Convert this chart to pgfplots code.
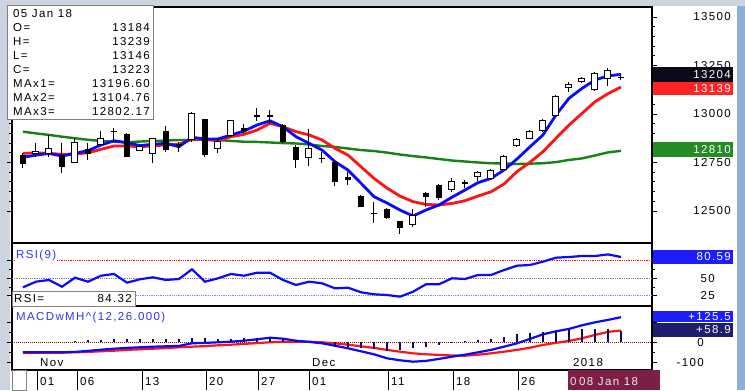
\documentclass[border=0pt]{standalone}
\usepackage{pgfplots}
\pgfplotsset{compat=1.18}
\usepackage{pgfplotstable}
\usepackage{fontspec}
\setmainfont{Liberation Sans}
\newfontfamily\chartfamily{Liberation Sans}[LetterSpace=12]
\newcommand\cf{\chartfamily\fontsize{11.5}{13}\selectfont}

\definecolor{maBlue}{RGB}{10,10,255}
\definecolor{maRed}{RGB}{255,20,20}
\definecolor{maGreen}{RGB}{20,130,20}
\definecolor{histNavy}{RGB}{10,10,100}
\definecolor{lblBlue}{RGB}{50,50,255}
\definecolor{boxBlue}{RGB}{30,30,250}
\definecolor{boxNavy}{RGB}{30,30,110}
\definecolor{boxGreen}{RGB}{35,140,35}
\definecolor{boxRed}{RGB}{255,35,35}
\definecolor{boxBlack}{RGB}{10,10,25}
\definecolor{zeroRed}{RGB}{140,0,0}
\definecolor{frameA}{RGB}{203,212,224}
\definecolor{frameB}{RGB}{140,175,220}
\definecolor{dateBox}{RGB}{125,30,70}

% up candles (close > open)
\pgfplotstableread{
i O H L C
1 12797 12852 12780 12809
2 12797 12892 12780 12820
4 12751 12875 12746 12854
6 12844 12914 12840 12875
9 12814 12840 12809 12831
10 12797 12878 12746 12875
13 12866 13012 12857 13004
15 12820 12878 12797 12857
16 12888 12969 12883 12965
22 12775 12923 12733 12820
30 12428 12509 12419 12479
33 12613 12668 12599 12654
35 12677 12706 12655 12698
36 12668 12715 12660 12708
37 12715 12789 12711 12783
38 12837 12878 12832 12871
39 12875 12918 12871 12909
40 12914 12973 12909 12964
41 12991 13098 12986 13089
42 13137 13163 13115 13154
43 13167 13191 13158 13184
44 13124 13218 13119 13210
45 13184 13239 13146 13223
}\upc

% down candles (close < open)
\pgfplotstableread{
i O H L C
0 12789 12797 12723 12742
3 12788 12849 12697 12728
5 12820 12849 12763 12794
7 12912 12926 12857 12906
8 12895 12902 12778 12780
11 12912 12940 12802 12814
12 12843 12857 12806 12837
14 12973 12975 12780 12789
17 12926 12947 12900 12912
18 12995 13032 12964 12983
19 12993 13020 12950 12987
20 12943 12946 12851 12857
21 12831 12840 12723 12763
23 12774 12806 12746 12773
24 12754 12763 12630 12648
25 12677 12702 12634 12660
26 12577 12580 12519 12522
27 12488 12545 12440 12483
28 12510 12515 12457 12462
29 12448 12450 12381 12411
31 12594 12596 12522 12571
32 12634 12639 12557 12565
34 12651 12660 12617 12639
46 13192 13198 13176 13186
}\downc

% indicators
\pgfplotstableread{
i ma1 ma2 ma3 rsi macd sig hist
0 12777 12797 12909 37.1 -50 -52 0
1 12788 12800 12900 45.1 -50 -53 0
2 12797 12797 12892 47.6 -50 -53 0
3 12783 12792 12883 37.9 -50 -52 0
4 12797 12794 12875 50.9 -48 -50 7
5 12811 12800 12867 45.1 -43 -48 10
6 12840 12818 12861 53.7 -37 -45 12
7 12862 12835 12857 56.2 -32 -42 17
8 12852 12835 12854 43.7 -28 -38 17
9 12837 12831 12858 48.6 -25 -35 17
10 12844 12836 12861 51.4 -22 -32 17
11 12849 12840 12863 47.6 -20 -29 17
12 12831 12844 12866 49.0 -18 -25 17
13 12880 12870 12866 62.9 -5 -22 23
14 12871 12870 12866 45.1 -3 -19 20
15 12871 12861 12866 50.0 0 -15 17
16 12892 12883 12861 56.2 3 -12 17
17 12912 12895 12857 53.7 8 -8 20
18 12943 12917 12856 58.0 15 -4 20
19 12965 12952 12853 58.0 23 0 23
20 12934 12934 12850 47.6 18 3 20
21 12883 12909 12848 40.4 8 3 10
22 12849 12892 12843 45.1 2 3 0
23 12814 12866 12835 42.8 -5 0 -5
24 12754 12823 12830 35.6 -17 -5 -22
25 12711 12788 12822 36.5 -30 -12 -22
26 12643 12728 12814 29.9 -45 -20 -27
27 12574 12668 12809 27.0 -60 -28 -35
28 12541 12618 12801 26.0 -80 -38 -43
29 12505 12577 12791 23.6 -90 -47 -38
30 12474 12548 12783 30.7 -97 -55 -30
31 12505 12534 12776 41.4 -93 -60 -22
32 12531 12531 12768 41.4 -83 -63 -13
33 12571 12539 12760 50.0 -72 -66 -5
34 12608 12553 12755 49.0 -62 -67 7
35 12646 12577 12750 54.7 -50 -62 12
36 12668 12599 12746 54.7 -38 -55 17
37 12711 12639 12745 61.9 -22 -47 28
38 12768 12703 12742 68.1 -5 -38 40
39 12831 12751 12744 69.1 17 -27 45
40 12892 12806 12746 73.9 40 -13 50
41 12995 12875 12752 79.6 55 -3 58
42 13081 12943 12763 80.6 67 7 65
43 13132 13003 12771 82.0 85 20 65
44 13175 13063 12786 82.0 100 37 65
45 13196.6 13104.76 12802.17 84.32 112 52 65
46 13204 13139 12810 80.59 125.5 58.9 57
}\ind

\pgfplotsset{
  panel/.style={
    scale only axis, anchor=south west, width=640pt,
    xmin=-0.846, xmax=48.385, xtick=\empty,
    scaled y ticks=false,
    axis line style={black, line width=1.2pt},
    tick align=outside, yticklabel pos=right,
    major tick length=5pt, minor tick length=3pt,
    tick style={black, line width=0.8pt},
    yticklabel style={font=\cf, anchor=east, inner sep=0pt},
  },
}

\begin{document}
\begin{tikzpicture}
\begin{scope}[x=1pt,y=1pt]
\fill[white] (0,0) rectangle (745,390);
\fill[frameA] (0,0) rectangle (10,390);
\fill[frameA] (0,384) rectangle (745,390);
\fill[frameB] (737,0) rectangle (745,384);
\end{scope}

% ---------- price panel ----------
\begin{axis}[panel, at={(12pt,147pt)}, height=236pt, ymin=12335, ymax=13551.5,
  ytick={12500,12750,13000,13250,13500},
  yticklabels={12500,12750,13000,13250,13500},
  minor y tick num=4, yticklabel style={xshift=74pt}]
\addplot[maGreen, line width=2.4pt] table[x=i,y=ma3]{\ind};
\addplot[maRed, line width=2.8pt] table[x=i,y=ma2]{\ind};
\addplot[maBlue, line width=2.8pt] table[x=i,y=ma1]{\ind};
\addplot[black, line width=1pt, quiver={u=0, v=\thisrow{H}-\thisrow{L}}] table[x=i,y=L]{\downc};
\addplot[black, line width=1pt, quiver={u=0, v=\thisrow{H}-\thisrow{L}}] table[x=i,y=L]{\upc};
\addplot[black, line width=6.5pt, quiver={u=0, v=\thisrow{C}-\thisrow{O}}] table[x=i,y=O]{\downc};
\addplot[black, line width=7pt, quiver={u=0, v=\thisrow{C}-\thisrow{O}+5.2}] table[x=i,y expr=\thisrow{O}-2.6]{\upc};
\addplot[white, line width=5pt, quiver={u=0, v=\thisrow{C}-\thisrow{O}-5.2}] table[x=i,y expr=\thisrow{O}+2.6]{\upc};
\end{axis}

% ---------- RSI panel ----------
\begin{axis}[panel, at={(12pt,84pt)}, height=63pt, ymin=10.2, ymax=100.7,
  ytick={25,50,75}, yticklabels={25,50,{}}, minor y tick num=1,
  yticklabel style={xshift=58pt}]
\addplot[gray, densely dotted, line width=0.8pt] coordinates {(-0.846,50) (48.385,50)};
\addplot[red, densely dotted, line width=0.8pt] coordinates {(-0.846,75) (48.385,75)};
\addplot[lblBlue!60, densely dotted, line width=0.8pt] coordinates {(-0.846,25) (48.385,25)};
\addplot[maBlue, line width=2.2pt] table[x=i,y=rsi]{\ind};
\end{axis}

% ---------- MACD panel ----------
\begin{axis}[panel, at={(12pt,20pt)}, height=64pt, ymin=-138.5, ymax=181.5,
  ytick={-100,0,100}, yticklabels={-100,0,{}}, minor y tick num=1,
  yticklabel style={xshift=47pt}]
\addplot[zeroRed, densely dotted, line width=1pt] coordinates {(-0.846,0) (48.385,0)};
\addplot[maRed, line width=2.2pt] table[x=i,y=sig]{\ind};
\addplot[maBlue, line width=2.2pt] table[x=i,y=macd]{\ind};
\addplot[histNavy, ycomb, line width=2.2pt] table[x=i,y=hist]{\ind};
\end{axis}

\begin{scope}[x=1pt,y=1pt]
% ---------- info box ----------
\draw[gray, fill=white, line width=1pt] (7,270) rectangle (153,384);
\node[anchor=west, inner sep=0] at (13,376) {\cf 05 Jan 18};
\foreach \k/\a/\b in {1/O=/13184, 2/H=/13239, 3/L=/13146, 4/C=/13223,
  5/MAx1=/13196.60, 6/MAx2=/13104.76, 7/MAx3=/12802.17} {
  \node[anchor=west, inner sep=0] at (13,376-13.9*\k) {\cf \a};
  \node[anchor=east, inner sep=0] at (150,376-13.9*\k) {\cf \b};
}

% ---------- right value boxes ----------
\fill[boxBlack] (653,308) rectangle (733,323);
\node[anchor=east, inner sep=0, text=white] at (731,315.5) {\cf 13204};
\fill[boxRed] (653,295) rectangle (733,308);
\node[anchor=east, inner sep=0, text=white] at (731,301.5) {\cf 13139};
\fill[boxGreen] (653,233) rectangle (733,248);
\node[anchor=east, inner sep=0, text=white] at (731,240.5) {\cf 12810};
\fill[boxBlue] (653,126) rectangle (733,140);
\node[anchor=east, inner sep=0, text=white] at (731,133) {\cf 80.59};
\fill[boxBlue] (653,68) rectangle (733,79);
\node[anchor=east, inner sep=0, text=white] at (731,73.5) {\cf +125.5};
\fill[boxNavy] (653,53) rectangle (733,67);
\node[anchor=east, inner sep=0, text=white] at (731,60) {\cf +58.9};

% ---------- panel labels ----------
\node[anchor=west, inner sep=1pt, fill=white, text=lblBlue] at (15,134) {\cf RSI(9)};
\draw[gray, fill=white, line width=0.8pt] (12,84) rectangle (135,99);
\node[anchor=west, inner sep=0] at (14,91.5) {\cf RSI=};
\node[anchor=east, inner sep=0] at (132,91.5) {\cf 84.32};
\node[anchor=west, inner sep=0, text=lblBlue] at (16,72) {\cf MACDwMH\textasciicircum(12,26.000)};
\node[anchor=base west, inner sep=0] at (40,23) {\cf Nov};
\node[anchor=base west, inner sep=0] at (312,23) {\cf Dec};
\node[anchor=base west, inner sep=0] at (573,23) {\cf 2018};

% ---------- date axis ----------
\draw[gray, line width=0.8pt] (12,0) rectangle (26,20);
\foreach \x/\t in {37/01,77/06,142/13,206/20,258/27,309/01,388/11,453/18,518/26} {
  \draw[black, line width=0.8pt] (\x,0) -- (\x,20);
  \node[anchor=base west, inner sep=0] at (\x+3,4) {\cf \t};
}
\fill[dateBox] (568,0) rectangle (660,20);
\node[anchor=base west, inner sep=0, text=white!85!dateBox] at (570,4) {\cf 0};
\node[anchor=base west, inner sep=0, text=white!90!dateBox] at (579,4) {\cf 08 Jan 18};
\end{scope}
\end{tikzpicture}
\end{document}
